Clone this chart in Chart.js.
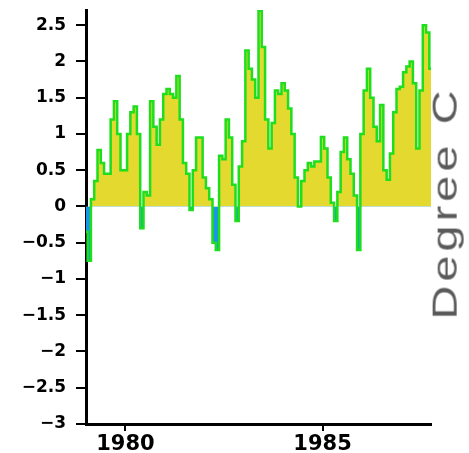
<!DOCTYPE html>
<html>
<head>
<meta charset="utf-8">
<script src="https://cdn.jsdelivr.net/npm/chart.js@4"></script>
<style>
  body { margin: 0; background: #fff; }
  #wrap { position: relative; width: 469px; height: 453px; }
  #unit {
    position: absolute; left: 444px; top: 203px;
    transform: translate(-50%, -50%) rotate(-90deg) scaleY(0.74);
    font: 47px "Liberation Sans", Arial, sans-serif;
    letter-spacing: 4px; color: #5a5a5a; white-space: nowrap;
  }
</style>
</head>
<body>
<div id="wrap">
  <canvas id="tempChart"></canvas>
  <div id="unit">Degree C</div>
</div>
<script>
// monthly anomaly, Jan 1979 .. Oct 1987
const startYear = 1979
const anomalies = [
  -0.35, -0.75, 0.1, 0.35, 0.78, 0.6, 0.45, 0.45, 1.2, 1.45, 1.0, 0.5,
  0.5, 1.0, 1.3, 1.38, 1.0, -0.3, 0.2, 0.15, 1.45, 1.1, 0.85, 1.2,
  1.55, 1.62, 1.55, 1.5, 1.8, 1.2, 0.6, 0.45, -0.05, 0.5, 0.95, 0.95,
  0.4, 0.25, 0.1, -0.5, -0.6, 0.7, 0.65, 1.2, 0.95, 0.3, -0.2, 0.55,
  0.9, 2.15, 1.9, 1.75, 1.5, 2.7, 2.2, 1.2, 0.8, 1.15, 1.6, 1.55,
  1.7, 1.6, 1.35, 1.0, 0.4, 0.0, 0.35, 0.5, 0.6, 0.55, 0.62, 0.62,
  0.96, 0.8, 0.4, 0.05, -0.2, 0.2, 0.75, 0.95, 0.65, 0.45, 0.15, -0.6,
  1.0, 1.6, 1.9, 1.5, 1.1, 0.9, 1.4, 0.5, 0.37, 0.73, 1.3, 1.62,
  1.65, 1.85, 1.93, 2.0, 1.7, 0.8, 1.6, 2.5, 2.4, 1.9
]
const yearTicks = [1980, 1985]
const degreeTicks = [-3, -2.5, -2, -1.5, -1, -0.5, 0, 0.5, 1, 1.5, 2, 2.5]

const points = anomalies.map((v, i) => ({ x: startYear + i / 12, y: v }))

const fmt = v => String(v).replace('-', '\u2212')

new Chart(document.getElementById('tempChart'), {
  type: 'line',
  data: {
    datasets: [{
      data: points,
      stepped: 'middle',
      borderColor: '#1ede1e',
      borderWidth: 2.5,
      pointRadius: 0,
      fill: { target: { value: 0 }, above: '#e4d92f', below: '#1a95e6' }
    }]
  },
  options: {
    responsive: true,
    maintainAspectRatio: false,
    animation: false,
    layout: { padding: { top: 10, right: 38, left: 0, bottom: 0 } },
    plugins: { legend: { display: false }, tooltip: { enabled: false } },
    scales: {
      x: {
        type: 'linear',
        min: startYear,
        max: startYear + (anomalies.length - 1) / 12,
        afterBuildTicks: axis => { axis.ticks = yearTicks.map(v => ({ value: v })) },
        afterFit: axis => { axis.height = 29; axis.paddingLeft = 0; axis.paddingRight = 0 },
        border: { display: true, color: '#000', width: 3 },
        grid: { drawOnChartArea: false, drawTicks: true, tickLength: 7, color: '#000', lineWidth: 2 },
        ticks: {
          color: '#000', padding: 1, maxRotation: 0,
          font: { family: 'DejaVu Sans', weight: 'bold', size: 21 },
          callback: v => String(v)
        }
      },
      y: {
        min: -3,
        max: 2.71,
        afterBuildTicks: axis => { axis.ticks = degreeTicks.map(v => ({ value: v })) },
        afterFit: axis => { axis.width = 86; axis.paddingTop = 0; axis.paddingBottom = 0 },
        border: { display: true, color: '#000', width: 3 },
        grid: { drawOnChartArea: false, drawTicks: true, tickLength: 10, color: '#000', lineWidth: 2 },
        ticks: {
          color: '#000', padding: 10,
          font: { family: 'DejaVu Sans', weight: 'bold', size: 17 },
          callback: v => fmt(v)
        }
      }
    }
  }
})
</script>
</body>
</html>
